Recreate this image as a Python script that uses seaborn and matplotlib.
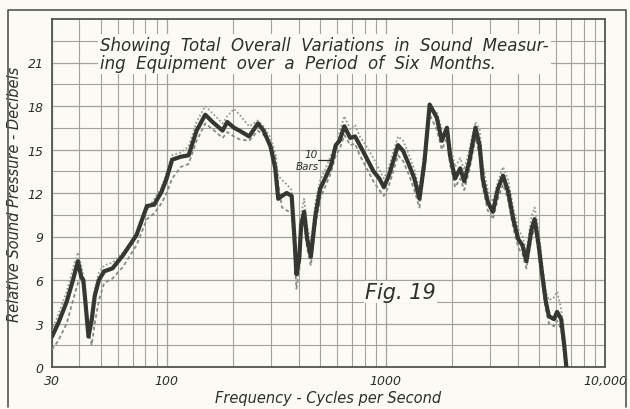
import numpy as np
import pandas as pd
import matplotlib
matplotlib.use("Agg")
import matplotlib.pyplot as plt
from matplotlib.ticker import FixedLocator, NullFormatter
import seaborn as sns

# Frequency points (cycles per second) along the response curves
freq = [30.0, 32.0, 35.0, 37.4, 39.4, 40.8, 41.7, 42.6, 44.0, 45.5,
        47.0, 49.1, 51.9, 56.6, 63.2, 72.9, 81.3, 87.8, 94.9, 100,
        106, 116, 126, 137, 150, 162, 180, 189, 203, 215,
        238, 261, 277, 298, 313, 323, 336, 353, 372, 383,
        391, 403, 411, 424, 437, 455, 478, 502, 528, 562,
        591, 615, 647, 688, 724, 761, 818, 878, 934, 980,
        1033, 1137, 1200, 1279, 1349, 1424, 1502, 1585, 1708, 1802,
        1901, 1963, 2071, 2185, 2280, 2406, 2565, 2678, 2766, 2918,
        3078, 3248, 3427, 3615, 3814, 4024, 4199, 4382, 4623, 4775,
        4983, 5147, 5371, 5548, 5854, 6046, 6310, 6518, 6663]

# Mean response (heavy trace), decibels
mean_db = [2.1, 3.0, 4.5, 6.0, 7.3, 6.2, 6.0, 4.5, 2.1, 3.2,
           4.9, 6.0, 6.6, 6.8, 7.7, 9.1, 11.1, 11.2, 12.1, 13.0,
           14.3, 14.5, 14.6, 16.3, 17.4, 16.9, 16.3, 16.9, 16.5, 16.3,
           15.9, 16.8, 16.3, 15.2, 13.7, 11.6, 11.8, 12.0, 11.8, 8.9,
           6.4, 7.5, 9.8, 10.7, 8.9, 7.6, 10.5, 12.3, 13.0, 13.9,
           15.3, 15.6, 16.6, 15.8, 15.9, 15.3, 14.4, 13.5, 13.0, 12.4,
           13.2, 15.3, 14.9, 13.9, 13.0, 11.6, 14.2, 18.1, 17.2, 15.6,
           16.5, 14.6, 13.0, 13.7, 12.8, 14.2, 16.5, 15.3, 13.0, 11.4,
           10.7, 12.3, 13.2, 12.1, 10.2, 8.8, 8.4, 7.3, 9.5, 10.2,
           8.4, 6.6, 4.5, 3.5, 3.3, 3.8, 3.3, 1.5, 0.0]

# Upper and lower runs over the six months (dotted traces), decibels
high_db = [2.5, 3.6, 5.2, 6.8, 7.9, 7.0, 6.3, 4.0, 2.4, 3.8,
           5.4, 6.5, 7.0, 7.2, 7.9, 9.0, 10.8, 11.6, 12.4, 13.4,
           14.6, 14.8, 15.2, 16.9, 18.0, 17.5, 16.8, 17.3, 17.8, 17.4,
           16.6, 17.0, 16.6, 15.8, 14.8, 13.2, 12.9, 12.6, 12.2, 9.6,
           7.0, 8.0, 10.5, 11.6, 9.8, 8.6, 11.4, 12.9, 13.6, 14.6,
           15.0, 16.2, 17.3, 16.4, 16.7, 15.9, 15.2, 14.4, 13.6, 13.0,
           13.8, 15.9, 15.6, 14.6, 13.6, 12.2, 15.0, 17.8, 17.6, 16.4,
           16.2, 15.4, 13.8, 14.4, 13.6, 15.0, 16.9, 16.4, 14.0, 12.2,
           11.4, 12.8, 13.8, 12.9, 11.0, 9.5, 9.0, 8.0, 10.4, 11.0,
           9.4, 7.4, 5.2, 4.6, 4.8, 5.2, 4.0, 2.0, 0.2]

low_db = [1.2, 1.8, 3.0, 4.6, 5.8, 6.0, 5.6, 4.8, 2.6, 1.5,
          3.0, 4.6, 5.8, 6.1, 6.9, 8.4, 10.2, 10.6, 11.3, 12.0,
          13.0, 13.8, 14.0, 15.6, 16.8, 16.4, 15.8, 16.2, 15.9, 15.7,
          15.6, 16.3, 16.0, 15.4, 14.6, 12.6, 11.0, 10.8, 10.6, 8.0,
          5.4, 6.6, 9.0, 10.2, 8.2, 7.0, 9.8, 11.6, 12.4, 13.4,
          14.6, 15.0, 16.0, 15.3, 15.4, 14.6, 13.7, 12.8, 12.2, 11.8,
          12.5, 14.6, 14.2, 13.2, 12.2, 11.0, 13.6, 17.4, 16.4, 15.0,
          15.8, 14.0, 12.4, 13.0, 12.2, 13.6, 15.8, 14.6, 12.4, 10.8,
          10.2, 11.6, 12.6, 11.5, 9.6, 8.2, 7.8, 6.8, 8.9, 9.6,
          7.8, 6.0, 4.0, 3.0, 2.8, 3.2, 2.6, 0.8, 0.0]

x_ticks = [30, 100, 1000, 10000]
x_tick_labels = ["30", "100", "1000", "10,000"]
y_ticks = [0, 3, 6, 9, 12, 15, 18, 21]
y_tick_labels = [str(v) for v in y_ticks]

sns.set_theme(style="white")
plt.rcParams["font.family"] = ["DejaVu Sans"]

paper = "#fbfbf4"
ink = "#2e2e2a"
grid_c = "#a2a29a"

fig = plt.figure(figsize=(6.3, 4.1), dpi=100, facecolor=paper)
ax = fig.add_axes([52 / 630, 42 / 410, 553 / 630, 348 / 410])
ax.set_facecolor(paper)

df = pd.DataFrame({"freq": freq, "mean": mean_db, "high": high_db, "low": low_db})

sns.lineplot(data=df, x="freq", y="high", ax=ax, color="#9a9a94", lw=1.3,
             linestyle=(0, (1, 1.2)), sort=False, zorder=3)
sns.lineplot(data=df, x="freq", y="low", ax=ax, color="#8a8a84", lw=1.3,
             linestyle=(0, (2, 1.5)), sort=False, zorder=3)
sns.lineplot(data=df, x="freq", y="mean", ax=ax, color="#363632", lw=3.0,
             sort=False, zorder=4)

ax.set_xscale("log")
ax.set_xlim(30, 10000)
ax.set_ylim(0, 24)

ax.xaxis.set_major_locator(FixedLocator(x_ticks))
ax.set_xticklabels(x_tick_labels)
minor_x = [m * d for d in (10, 100, 1000) for m in range(2, 10) if m * d > 30]
ax.xaxis.set_minor_locator(FixedLocator(minor_x))
ax.xaxis.set_minor_formatter(NullFormatter())

ax.yaxis.set_major_locator(FixedLocator(y_ticks))
ax.set_yticklabels(y_tick_labels)
ax.yaxis.set_minor_locator(FixedLocator(np.arange(1.5, 24, 3)))

ax.grid(True, which="major", color=grid_c, lw=0.9)
ax.grid(True, which="minor", color=grid_c, lw=0.8)
ax.set_axisbelow(True)
for s in ax.spines.values():
    s.set_color("#55554f")
    s.set_linewidth(1.3)

ax.tick_params(axis="both", which="both", length=0, colors=ink)
for lab in ax.get_xticklabels() + ax.get_yticklabels():
    lab.set_fontstyle("italic")
    lab.set_fontsize(9)
    lab.set_color(ink)
ax.tick_params(axis="x", pad=5)
ax.tick_params(axis="y", pad=6)

ax.set_xlabel("Frequency - Cycles per Second", fontsize=10.5, style="italic",
              color=ink, labelpad=2)
ax.set_ylabel("Relative Sound Pressure - Decibels", fontsize=10.5, style="italic",
              color=ink, labelpad=4)

fig.text(100 / 630, 1 - 37 / 410,
         "Showing  Total  Overall  Variations  in  Sound  Measur-\n"
         "ing  Equipment  over  a  Period  of  Six  Months.",
         ha="left", va="top", fontsize=12, style="italic", color=ink,
         linespacing=1.0, zorder=10,
         bbox=dict(facecolor=paper, edgecolor="none", pad=1.5))

fig.text(365 / 630, 1 - 293 / 410, "Fig. 19", ha="left", va="center",
         fontsize=15, style="italic", color=ink, zorder=10,
         bbox=dict(facecolor=paper, edgecolor="none", pad=1))

fig.text(311 / 630, 1 - 155 / 410, "10", ha="center", va="center",
         fontsize=7.5, style="italic", color=ink, zorder=10)
fig.text(307 / 630, 1 - 167 / 410, "Bars", ha="center", va="center",
         fontsize=7.5, style="italic", color=ink, zorder=10)
fig.add_artist(plt.Line2D([318 / 630, 331 / 630], [1 - 161 / 410, 1 - 161 / 410],
                          color=ink, lw=0.9))

# page border
fig.add_artist(plt.Line2D([8 / 630, 8 / 630, 626 / 630, 626 / 630],
                          [2 / 410, 1 - 11 / 410, 1 - 11 / 410, 2 / 410],
                          color="#55554f", lw=1.2))

fig.savefig("out.png", dpi=100, facecolor=paper)
